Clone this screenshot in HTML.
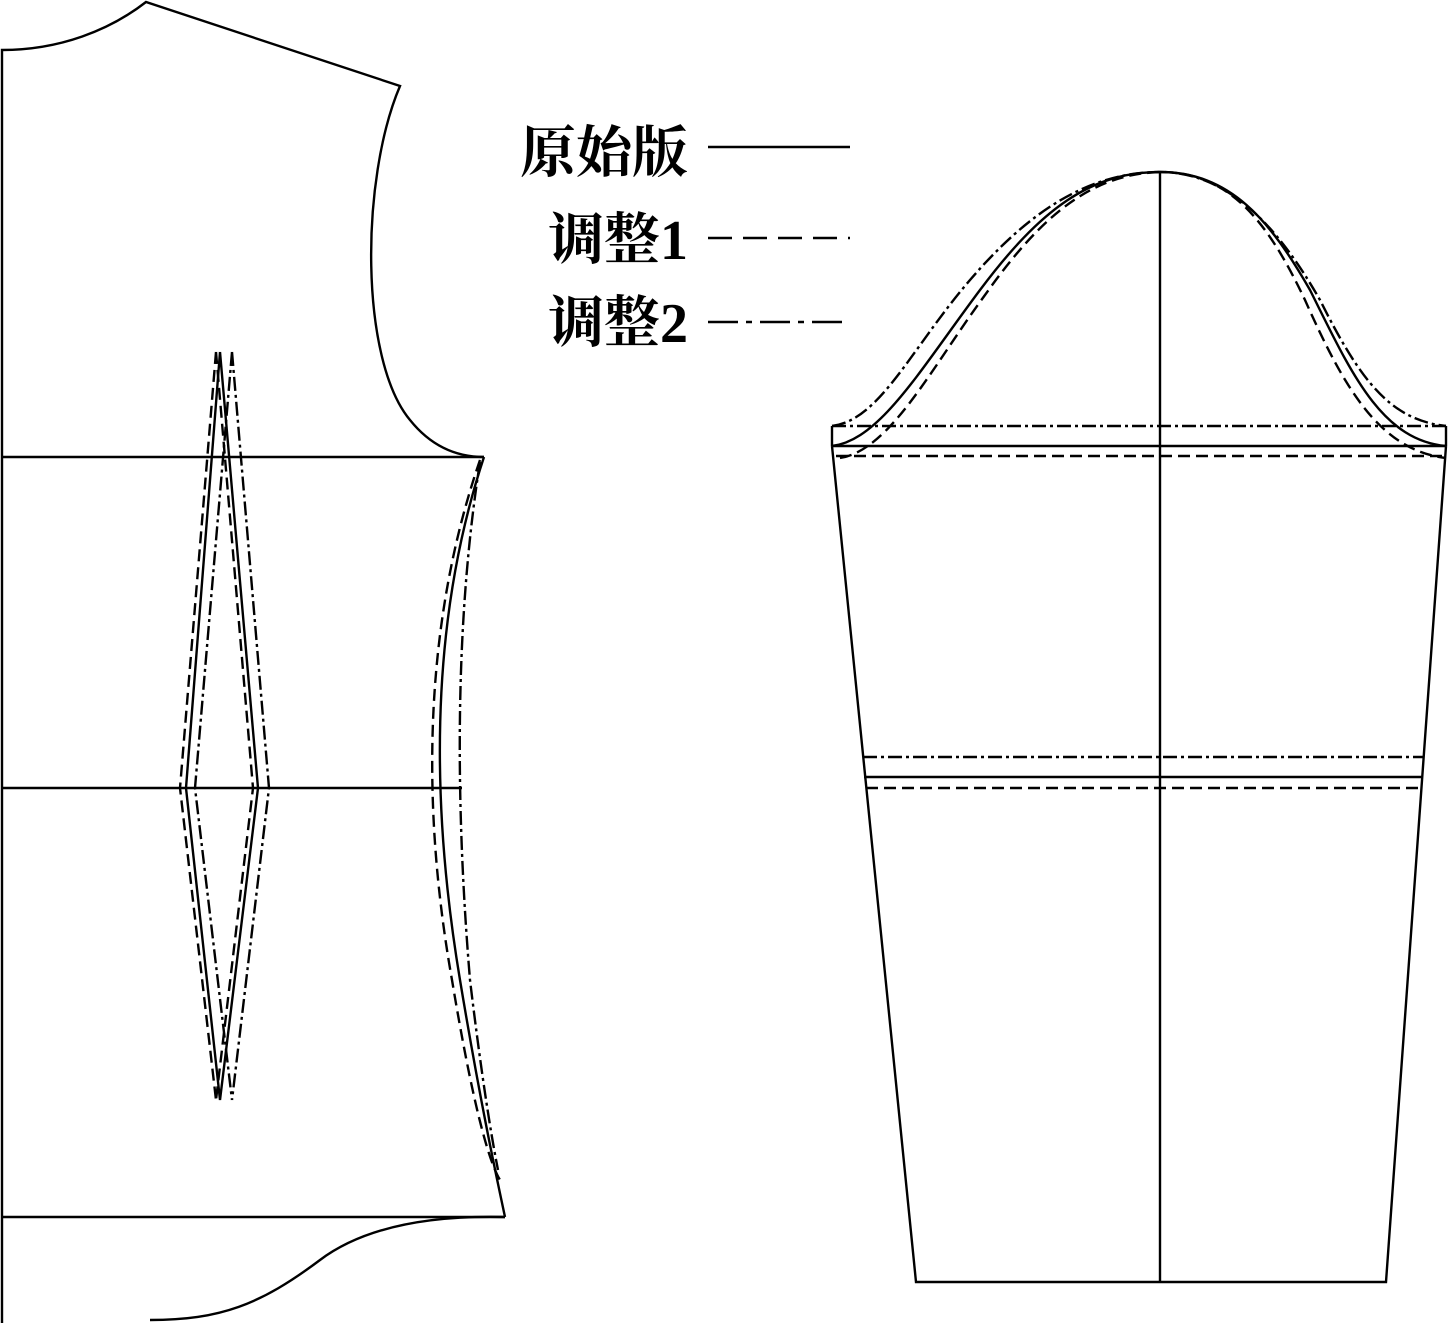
<!DOCTYPE html>
<html><head><meta charset="utf-8"><style>
html,body{margin:0;padding:0;background:#fff;}
svg{display:block;}
text{font-family:"Liberation Serif","Noto Serif CJK SC",serif;font-size:56px;font-weight:bold;fill:#000;}
</style></head><body>
<svg width="1448" height="1323" viewBox="0 0 1448 1323" xmlns="http://www.w3.org/2000/svg">
<g fill="none" stroke="#000" stroke-width="2.4">
<!-- bodice -->
<path d="M2,1323 L2,50 C60,50 110,30 146,2 L400,86 C360,180 360,360 410,420 C430,445 455,457 484,457"/>
<line x1="2" y1="457" x2="484" y2="457"/>
<line x1="2" y1="788" x2="462" y2="788"/>
<line x1="2" y1="1217" x2="505" y2="1217"/>
<path d="M505,1217 C420,1215 360,1230 320,1260 C260,1305 220,1320 150,1320"/>
<path d="M484,457 C430,620 430,800 460,980 C480,1100 495,1170 505,1217"/>
<path d="M480,460 C425,620 420,800 452,980 C472,1100 488,1160 500,1180" stroke-dasharray="12,6"/>
<path d="M480,462 C455,620 455,800 470,980 C482,1080 492,1140 498,1170" stroke-dasharray="14,4,3,4"/>
<!-- darts -->
<path d="M220,352 L186,788 L220,1100 M220,352 L258,788 L220,1100"/>
<path d="M216,352 L180,788 L216,1100 M216,352 L253,788 L216,1100" stroke-dasharray="12,6"/>
<path d="M232,352 L195,788 L232,1100 M232,352 L269,788 L232,1100" stroke-dasharray="14,4,3,4"/>
<!-- sleeve -->
<line x1="1160" y1="172" x2="1160" y2="1282"/>
<path d="M832,426 L832,446 M1446,426 L1446,446"/>
<path d="M832,446 L916,1282 L1386,1282 L1446,446"/>
<line x1="832" y1="446" x2="1446" y2="446"/>
<line x1="832" y1="426" x2="1446" y2="426" stroke-dasharray="14,4,3,4"/>
<line x1="836" y1="456" x2="1446" y2="456" stroke-dasharray="12,6"/>
<line x1="864" y1="777" x2="1422" y2="777"/>
<line x1="863" y1="757" x2="1423" y2="757" stroke-dasharray="14,4,3,4"/>
<line x1="866" y1="788" x2="1421" y2="788" stroke-dasharray="12,6"/>
<path d="M832,446 C880,440 920,370 980,290 C1040,210 1090,172 1160,172 C1230,172 1270,220 1310,290 C1350,370 1380,440 1446,446"/>
<path d="M832,426 C880,420 910,350 970,280 C1030,210 1090,172 1160,172 C1230,172 1280,230 1320,300 C1360,380 1390,420 1446,426" stroke-dasharray="14,4,3,4"/>
<path d="M840,458 C890,450 930,370 985,295 C1045,210 1095,174 1160,172 C1230,172 1268,222 1305,300 C1345,390 1380,450 1446,458" stroke-dasharray="12,6"/>
<!-- legend lines -->
<line x1="708" y1="147" x2="850" y2="147"/>
<line x1="708" y1="238" x2="850" y2="238" stroke-dasharray="24,11"/>
<line x1="708" y1="322" x2="850" y2="322" stroke-dasharray="30,8,6,8"/>
</g>
<text x="688" y="172" text-anchor="end">原始版</text>
<text x="688" y="259" text-anchor="end">调整1</text>
<text x="688" y="342" text-anchor="end">调整2</text>
</svg>
</body></html>
